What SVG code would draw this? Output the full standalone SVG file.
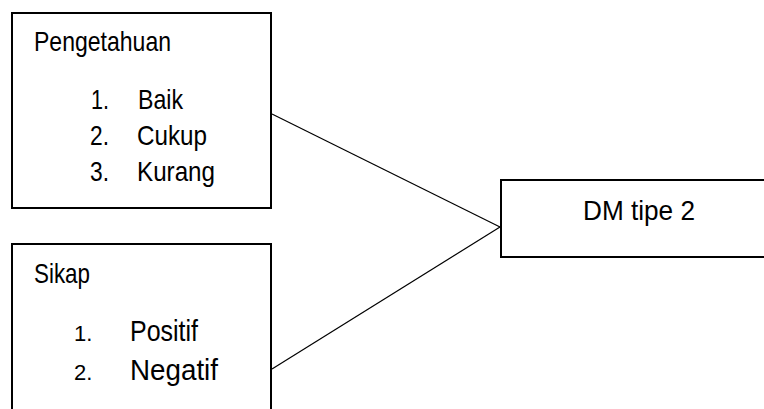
<svg xmlns="http://www.w3.org/2000/svg" width="764" height="409" viewBox="0 0 764 409">
<style>
.box{fill:#fff;stroke:#000;stroke-width:2}
.ln{stroke:#000;stroke-width:1.2;fill:none}
text{font-family:"Liberation Sans",Arial,sans-serif;fill:#000}
.t{font-size:28px}
.n2{font-size:22px}
.big{font-size:30px}
.dm{font-size:28px}
</style>
<rect width="764" height="409" fill="#fff"/>
<g id="connectors">
<line class="ln" x1="272" y1="114" x2="500" y2="227"/>
<line class="ln" x1="272" y1="369" x2="500" y2="227"/>
</g>
<g id="pengetahuan">
<rect class="box" x="12" y="13" width="259" height="195"/>
<text class="t" x="34" y="50.5" textLength="137" lengthAdjust="spacingAndGlyphs">Pengetahuan</text>
<text class="t" x="91" y="108.5" textLength="18" lengthAdjust="spacingAndGlyphs">1.</text>
<text class="t" x="138" y="108.5" textLength="45" lengthAdjust="spacingAndGlyphs">Baik</text>
<text class="t" x="90" y="144.5" textLength="19" lengthAdjust="spacingAndGlyphs">2.</text>
<text class="t" x="137" y="144.5" textLength="70" lengthAdjust="spacingAndGlyphs">Cukup</text>
<text class="t" x="90" y="180.5" textLength="19" lengthAdjust="spacingAndGlyphs">3.</text>
<text class="t" x="137" y="180.5" textLength="78" lengthAdjust="spacingAndGlyphs">Kurang</text>
</g>
<g id="sikap">
<rect class="box" x="12" y="244" width="259" height="200"/>
<text class="t" x="34" y="283" font-size="27" textLength="56" lengthAdjust="spacingAndGlyphs">Sikap</text>
<text class="n2" x="74" y="341">1.</text>
<text class="big" x="130" y="340.5" textLength="68" lengthAdjust="spacingAndGlyphs">Positif</text>
<text class="n2" x="74" y="380">2.</text>
<text class="big" x="130" y="380" textLength="88" lengthAdjust="spacingAndGlyphs">Negatif</text>
</g>
<g id="dm">
<rect class="box" x="501" y="180" width="270" height="77"/>
<text class="dm" x="583" y="220" textLength="112" lengthAdjust="spacingAndGlyphs">DM tipe 2</text>
</g>
</svg>
